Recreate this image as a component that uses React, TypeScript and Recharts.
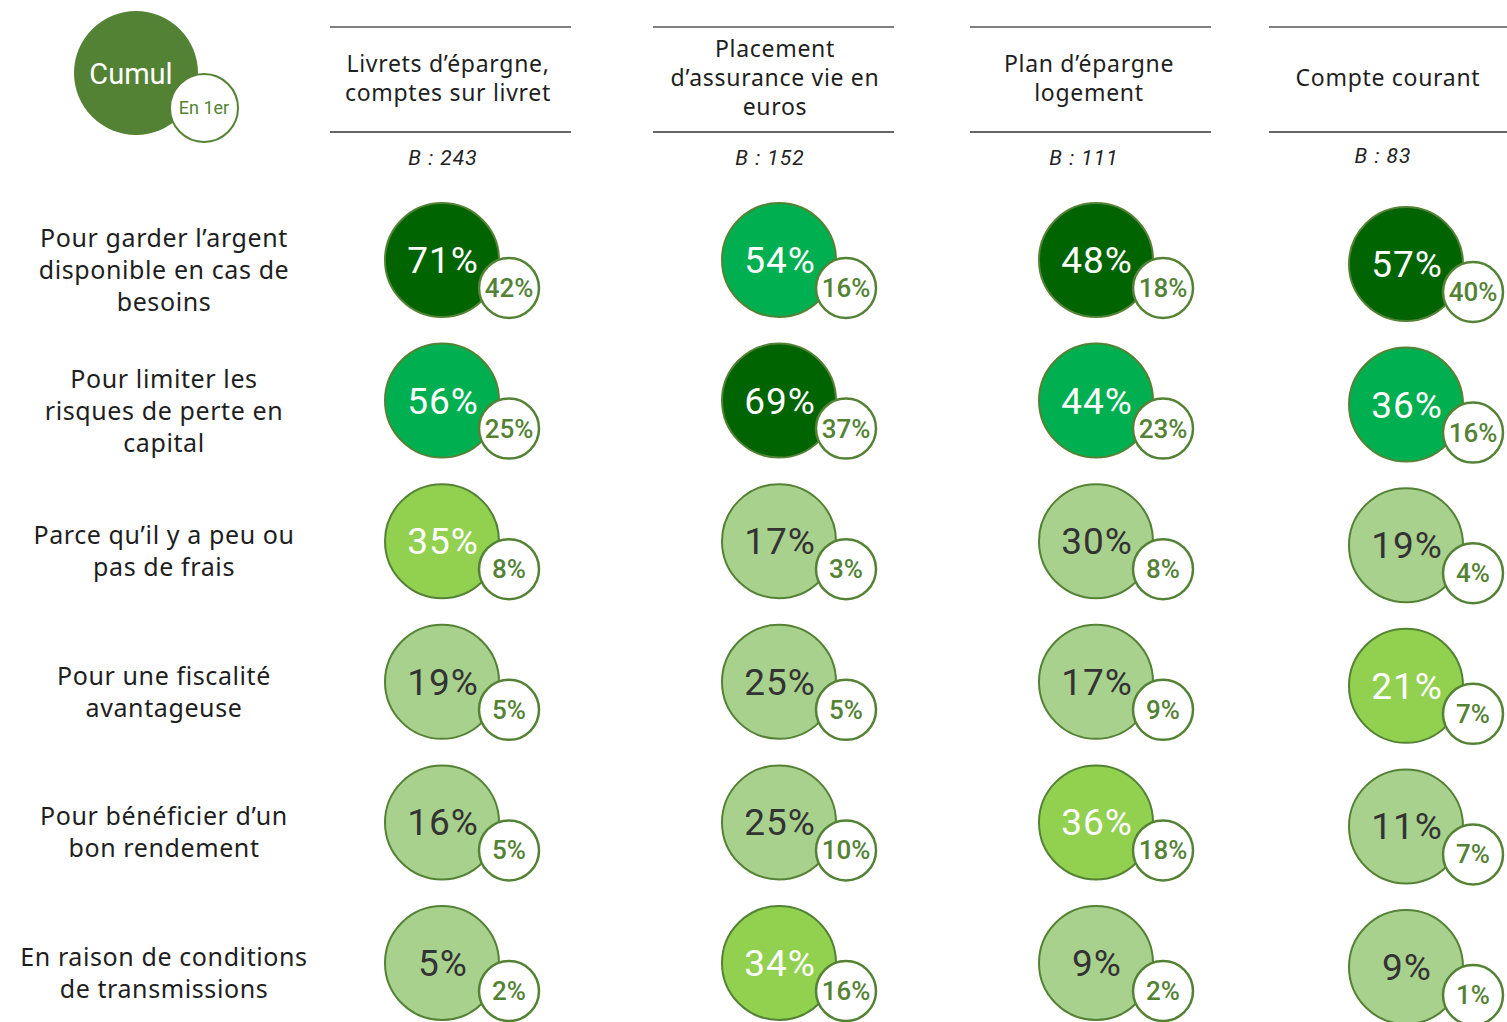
import React from 'react';
import { ScatterChart, Scatter, XAxis, YAxis, Customized } from 'recharts';

// ---------- data ----------
const rowLabels: string[][] = [
  ['Pour garder l’argent', 'disponible en cas de', 'besoins'],
  ['Pour limiter les', 'risques de perte en', 'capital'],
  ['Parce qu’il y a peu ou', 'pas de frais'],
  ['Pour une fiscalité', 'avantageuse'],
  ['Pour bénéficier d’un', 'bon rendement'],
  ['En raison de conditions', 'de transmissions'],
];

const columnHeaders: string[][] = [
  ['Livrets d’épargne,', 'comptes sur livret'],
  ['Placement', 'd’assurance vie en', 'euros'],
  ['Plan d’épargne', 'logement'],
  ['Compte courant'],
];

const bases: string[] = ['B : 243', 'B : 152', 'B : 111', 'B : 83'];

const cumulLivrets = [71, 56, 35, 19, 16, 5];
const firstLivrets = [42, 25, 8, 5, 5, 2];
const cumulAssurance = [54, 69, 17, 25, 25, 34];
const firstAssurance = [16, 37, 3, 5, 10, 16];
const cumulPEL = [48, 44, 30, 17, 36, 9];
const firstPEL = [18, 23, 8, 9, 18, 2];
const cumulCompte = [57, 36, 19, 21, 11, 9];
const firstCompte = [40, 16, 4, 7, 7, 1];

const cumulSeries = [cumulLivrets, cumulAssurance, cumulPEL, cumulCompte];
const firstSeries = [firstLivrets, firstAssurance, firstPEL, firstCompte];

// ---------- layout / style ----------
const W = 1507;
const H = 1022;
const LABEL_W = 330;
const colCenters = [442, 779, 1096, 1406];
const colNudgeY = [0, 0, 0, 4];
const headerSpans = [
  [330, 571],
  [653, 894],
  [970, 1211],
  [1269, 1507],
];
const headerCenters = [448, 775, 1089, 1388];

const GREEN = '#548235';
const rankColors = ['#006400', '#00B050', '#92D050'];
const PALE = '#A9D18E';
const NUM_FONT = 'Roboto, "Noto Sans", sans-serif';
const TXT_FONT = '"Noto Sans", "Open Sans", sans-serif';

function rankOf(values: number[], i: number) {
  const sorted = [...values].sort((a, b) => b - a);
  return sorted.indexOf(values[i]);
}

const columnData = cumulSeries.map((vals, c) =>
  vals.map((v, i) => ({
    x: 0,
    y: i,
    cumul: v,
    first: firstSeries[c][i],
    rank: rankOf(vals, i),
  }))
);

const Bubble = (props: any) => {
  const { cx, payload, nudgeY = 0 } = props;
  const cy = props.cy == null ? null : props.cy + nudgeY;
  if (cx == null || cy == null) return null;
  const fill = payload.rank < 3 ? rankColors[payload.rank] : PALE;
  const txt = payload.rank < 3 ? '#ffffff' : '#333333';
  const sx = cx + 67;
  const sy = cy + 28;
  return (
    <g>
      <circle cx={cx} cy={cy} r={57} fill={fill} stroke={GREEN} strokeWidth={2} />
      <text
        x={cx + 1}
        y={cy + 13}
        textAnchor="middle"
        fontFamily={NUM_FONT}
        fontSize={37}
        fill={txt}
        letterSpacing={1}
      >
        {payload.cumul}%
      </text>
      <circle cx={sx} cy={sy} r={30} fill="#ffffff" stroke={GREEN} strokeWidth={2.5} />
      <text
        x={sx}
        y={sy + 9}
        textAnchor="middle"
        fontFamily={NUM_FONT}
        fontSize={26}
        fontWeight={500}
        fill={GREEN}
      >
        {payload.first}%
      </text>
    </g>
  );
};

const RowTick = (props: any) => {
  const { y, payload } = props;
  const lines = rowLabels[payload.value];
  if (!lines) return null;
  const center = y + 10;
  const firstLine = center - ((lines.length - 1) * 32) / 2;
  return (
    <g>
      {lines.map((l, i) => (
        <text
          key={i}
          x={164}
          y={firstLine + 9 + i * 32}
          textAnchor="middle"
          fontFamily={TXT_FONT}
          fontSize={25}
          letterSpacing={0.6}
          fill="#1e1e1e"
        >
          {l}
        </text>
      ))}
    </g>
  );
};

const HeaderLayer = () => (
  <g>
    {/* logo */}
    <circle cx={136} cy={73} r={62} fill={GREEN} />
    <text x={131} y={84} textAnchor="middle" fontFamily={NUM_FONT} fontSize={29} fill="#ffffff">
      Cumul
    </text>
    <circle cx={204} cy={108} r={34} fill="#ffffff" stroke={GREEN} strokeWidth={2} />
    <text x={204} y={114} textAnchor="middle" fontFamily={NUM_FONT} fontSize={18} fill={GREEN}>
      En 1er
    </text>
    {columnHeaders.map((lines, c) => {
      const [l, r] = headerSpans[c];
      const cx = headerCenters[c];
      const firstLine = 78 - ((lines.length - 1) * 29) / 2;
      return (
        <g key={c}>
          <line x1={l} x2={r} y1={27} y2={27} stroke="#555555" strokeWidth={1.5} />
          <line x1={l} x2={r} y1={132} y2={132} stroke="#333333" strokeWidth={1.5} />
          {lines.map((t, i) => (
            <text
              key={i}
              x={cx}
              y={firstLine + 8 + i * 29}
              textAnchor="middle"
              fontFamily={TXT_FONT}
              fontSize={23}
              letterSpacing={0.7}
              fill="#1e1e1e"
            >
              {t}
            </text>
          ))}
          <text
            x={cx - 5}
            y={c === 3 ? 163 : 165}
            textAnchor="middle"
            fontFamily={NUM_FONT}
            fontStyle="italic"
            fontSize={21}
            fill="#222222"
            letterSpacing={1}
          >
            {bases[c]}
          </text>
        </g>
      );
    })}
  </g>
);

export default function App() {
  return (
    <div style={{ position: 'absolute', left: 0, top: 0, width: W, height: H, background: '#fff' }}>
      <ScatterChart width={W} height={H} margin={{ top: 260, right: 0, bottom: 59, left: 0 }}>
        {colCenters.map((cx, c) => (
          <XAxis
            key={c}
            xAxisId={c}
            type="number"
            dataKey="x"
            domain={[LABEL_W - cx, W - cx]}
            hide
          />
        ))}
        <YAxis
          type="number"
          dataKey="y"
          domain={[0, 5]}
          ticks={[0, 1, 2, 3, 4, 5]}
          interval={0}
          reversed
          width={LABEL_W}
          axisLine={false}
          tickLine={false}
          tick={<RowTick />}
        />
        <Customized component={HeaderLayer} />
        {columnData.map((data, c) => (
          <Scatter
            key={c}
            xAxisId={c}
            data={data}
            shape={<Bubble nudgeY={colNudgeY[c]} />}
            isAnimationActive={false}
          />
        ))}
      </ScatterChart>
    </div>
  );
}
